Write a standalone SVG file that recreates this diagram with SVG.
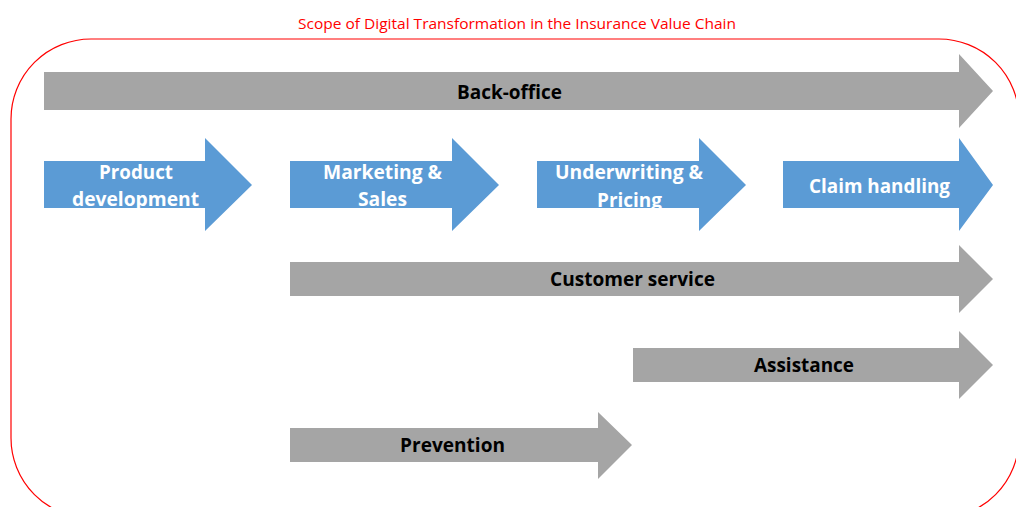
<svg xmlns="http://www.w3.org/2000/svg" width="1016" height="507" viewBox="0 0 1016 507">
  <style>
    .title { font-family: "Open Sans", "Liberation Sans", Arial, sans-serif; font-size: 14px; fill: #FF0000; }
    .lbl { font-family: "Open Sans", "Liberation Sans", Arial, sans-serif; font-size: 20px; font-weight: bold; text-anchor: middle; }
    .grey { fill: #A5A5A5; }
    .blue { fill: #5B9BD5; }
    .dark { fill: #000000; }
    .light { fill: #FFFFFF; }
  </style>
  <defs>
    <!-- the second line of this label is cut off at the arrow body edge -->
    <clipPath id="uwClip">
      <rect x="530" y="150" width="190" height="58"/>
    </clipPath>
  </defs>
  <rect width="1016" height="507" fill="#FFFFFF"/>

  <!-- scope frame -->
  <g id="scope">
    <rect x="11" y="39" width="1008" height="479" rx="80" ry="80" fill="none" stroke="#FF0000" stroke-width="1.2"/>
    <text class="title" x="517" y="29" text-anchor="middle" textLength="438" lengthAdjust="spacingAndGlyphs">Scope of Digital Transformation in the Insurance Value Chain</text>
  </g>

  <!-- back-office spans the whole chain -->
  <g id="back-office">
    <polygon class="grey" points="44,72 959,72 959,54 993,91 959,128 959,110 44,110"/>
    <text class="lbl dark" x="509.5" y="99" textLength="105" lengthAdjust="spacingAndGlyphs">Back-office</text>
  </g>

  <!-- core value chain steps -->
  <g id="product-development">
    <polygon class="blue" points="44,161 205,161 205,138 252,185 205,231 205,208 44,208"/>
    <text class="lbl light" x="136" y="179" textLength="74" lengthAdjust="spacingAndGlyphs">Product</text>
    <text class="lbl light" x="135.5" y="206" textLength="127" lengthAdjust="spacingAndGlyphs">development</text>
  </g>
  <g id="marketing-sales">
    <polygon class="blue" points="290,161 452,161 452,138 499,185 452,231 452,208 290,208"/>
    <text class="lbl light" x="382.5" y="179" textLength="119" lengthAdjust="spacingAndGlyphs">Marketing &amp;</text>
    <text class="lbl light" x="382.5" y="206" textLength="49" lengthAdjust="spacingAndGlyphs">Sales</text>
  </g>
  <g id="underwriting-pricing">
    <polygon class="blue" points="537,161 699,161 699,138 746,185 699,231 699,208 537,208"/>
    <g clip-path="url(#uwClip)">
      <text class="lbl light" x="629" y="179" textLength="148" lengthAdjust="spacingAndGlyphs">Underwriting &amp;</text>
      <text class="lbl light" x="629.5" y="207" textLength="65" lengthAdjust="spacingAndGlyphs">Pricing</text>
    </g>
  </g>
  <g id="claim-handling">
    <polygon class="blue" points="783,161 959,161 959,138 993,185 959,231 959,208 783,208"/>
    <text class="lbl light" x="879.5" y="193" textLength="141" lengthAdjust="spacingAndGlyphs">Claim handling</text>
  </g>

  <!-- cross-cutting activities -->
  <g id="customer-service">
    <polygon class="grey" points="290,262 959,262 959,245 993,279 959,313 959,296 290,296"/>
    <text class="lbl dark" x="632.5" y="286" textLength="165" lengthAdjust="spacingAndGlyphs">Customer service</text>
  </g>
  <g id="assistance">
    <polygon class="grey" points="633,348 959,348 959,331 993,365 959,399 959,382 633,382"/>
    <text class="lbl dark" x="804" y="372" textLength="100" lengthAdjust="spacingAndGlyphs">Assistance</text>
  </g>
  <g id="prevention">
    <polygon class="grey" points="290,428 598,428 598,412 632,445 598,479 598,462 290,462"/>
    <text class="lbl dark" x="452.5" y="452" textLength="105" lengthAdjust="spacingAndGlyphs">Prevention</text>
  </g>
</svg>
